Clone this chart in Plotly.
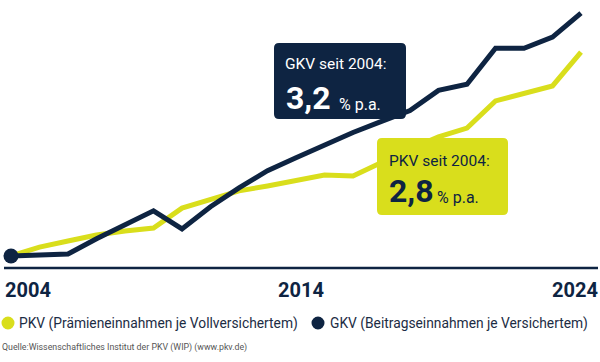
import plotly.graph_objects as go

# ---- data (index, 2004 = 100) ----
years = list(range(2004, 2025))
pkv = [100.0, 103.2, 105.4, 107.6, 109.0, 110.1, 117.3, 120.6, 123.5, 125.3, 127.4,
       129.2, 128.9, 133.9, 138.6, 143.0, 146.2, 156.0, 158.5, 161.4, 173.6]
gkv = [100.0, 100.2, 100.7, 106.2, 111.2, 116.3, 109.8, 117.8, 124.6, 130.8, 135.5,
       140.2, 144.6, 148.6, 152.5, 159.8, 162.0, 175.0, 175.0, 179.0, 187.7]
tick_labels = ["2004", "2014", "2024"]
series_names = ["PKV (Prämieneinnahmen je Vollversichertem)",
                "GKV (Beitragseinnahmen je Versichertem)"]
gkv_rate = "3,2"
pkv_rate = "2,8"

NAVY = "#0e2442"
YELLOW = "#d9de1c"
FONT = "Roboto"

W, H = 600, 362
PLOT_BOTTOM = 268  # px of plot-area bottom


def px(x):
    return x / W


def py(y):
    return (PLOT_BOTTOM - y) / PLOT_BOTTOM


def rrect(x0, y0, x1, y1, r):
    X0, X1 = px(x0), px(x1)
    Y0, Y1 = py(y0), py(y1)
    rx, ry = r / W, r / PLOT_BOTTOM
    return (f"M {X0+rx},{Y0} L {X1-rx},{Y0} Q {X1},{Y0} {X1},{Y0-ry} "
            f"L {X1},{Y1+ry} Q {X1},{Y1} {X1-rx},{Y1} L {X0+rx},{Y1} "
            f"Q {X0},{Y1} {X0},{Y1+ry} L {X0},{Y0-ry} Q {X0},{Y0} {X0+rx},{Y0} Z")


fig = go.Figure()
fig.add_trace(go.Scatter(x=years, y=pkv, mode="lines",
                         line=dict(color=YELLOW, width=5), hoverinfo="skip",
                         showlegend=False))
fig.add_trace(go.Scatter(x=years, y=gkv, mode="lines",
                         line=dict(color=NAVY, width=5), hoverinfo="skip",
                         showlegend=False))
fig.add_trace(go.Scatter(x=[years[0]], y=[gkv[0]], mode="markers",
                         marker=dict(color=NAVY, size=15), hoverinfo="skip",
                         showlegend=False))

shapes = [
    dict(type="line", xref="paper", yref="paper", x0=px(4), x1=px(598),
         y0=py(268), y1=py(268), line=dict(color=NAVY, width=2.5), layer="below"),
    dict(type="path", xref="paper", yref="paper", path=rrect(274, 43, 406, 119, 5),
         fillcolor=NAVY, line=dict(width=0), layer="above"),
    dict(type="path", xref="paper", yref="paper", path=rrect(377, 138, 508, 215, 5),
         fillcolor=YELLOW, line=dict(width=0), layer="above"),
    dict(type="circle", xref="paper", yref="paper", x0=px(1.5), x1=px(14.5),
         y0=py(329.5), y1=py(316.5), fillcolor=YELLOW, line=dict(width=0)),
    dict(type="circle", xref="paper", yref="paper", x0=px(311.5), x1=px(324.5),
         y0=py(329.5), y1=py(316.5), fillcolor=NAVY, line=dict(width=0)),
]

ann = []


def text(x, y, t, size, color, xanchor="left", bold=False):
    ann.append(dict(x=px(x), y=py(y), xref="paper", yref="paper",
                    text=(f"<b>{t}</b>" if bold else t),
                    showarrow=False, xanchor=xanchor, yanchor="middle",
                    font=dict(family=FONT, size=size, color=color)))


# boxes text
text(283, 64, "GKV seit 2004:", 15.5, "white")
text(284, 98, gkv_rate, 32, "white", bold=True)
text(337, 104, "% p.a.", 16, "white")
text(387, 161, "PKV seit 2004:", 15.5, NAVY)
text(387, 191, pkv_rate, 32, NAVY, bold=True)
text(435, 197, "% p.a.", 16, NAVY)

# x labels
text(3, 290, tick_labels[0], 20, NAVY, "left", True)
text(301, 290, tick_labels[1], 20, NAVY, "center", True)
text(600, 290, tick_labels[2], 20, NAVY, "right", True)

# legend
text(17, 323, series_names[0], 13.8, "#1c2c44")
text(328, 323, series_names[1], 13.8, "#1c2c44")

# source
text(0, 347, "Quelle:Wissenschaftliches Institut der PKV (WIP) (www.pkv.de)", 8.8, "#555555")

x_lo = 2004 - 11 / 28.5
x_hi = 2004 + 589 / 28.5
k = 2.77
y_lo = 100 - 12 / k
y_hi = 100 + 256 / k

fig.update_layout(
    width=W, height=H,
    margin=dict(l=0, r=0, t=0, b=H - PLOT_BOTTOM, pad=0),
    paper_bgcolor="white", plot_bgcolor="white",
    xaxis=dict(range=[x_lo, x_hi], visible=False, fixedrange=True),
    yaxis=dict(range=[y_lo, y_hi], visible=False, fixedrange=True),
    shapes=shapes, annotations=ann, showlegend=False,
    hovermode=False,
)

fig.write_html("out.html", config={"displayModeBar": False},
               post_script="document.body.style.margin='0';document.body.style.overflow='hidden';")
